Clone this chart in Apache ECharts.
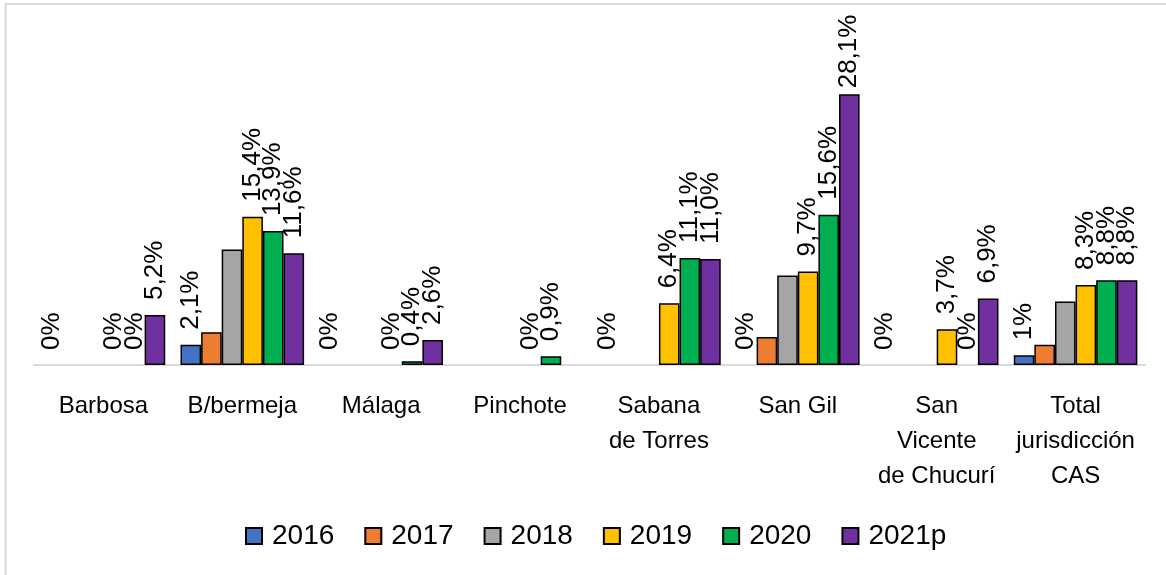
<!DOCTYPE html>
<html>
<head>
<meta charset="utf-8">
<script src="https://cdn.jsdelivr.net/npm/echarts@6/dist/echarts.min.js"></script>
<style>
  html, body { margin: 0; padding: 0; background: #fff; }
  #main { width: 1166px; height: 575px; }
</style>
</head>
<body>
<div id="main"></div>
<script>
var categories = ['Barbosa', 'B/bermeja', 'Málaga', 'Pinchote', 'Sabana\nde Torres', 'San Gil', 'San\nVicente\nde Chucurí', 'Total\njurisdicción\nCAS'];
var years = ['2016', '2017', '2018', '2019', '2020', '2021p'];

// null = no data for that year
var v2016 = [0, 2.1, 0, null, 0, 0, 0, 1];
var v2017 = [null, 3.4, null, null, null, 2.9, null, 2.1];
var v2018 = [null, 12.0, null, null, null, 9.3, null, 6.6];
var v2019 = [0, 15.4, 0, 0, 6.4, 9.7, 3.7, 8.3];
var v2020 = [0, 13.9, 0.4, 0.9, 11.1, 15.6, 0, 8.8];
var v2021 = [5.2, 11.6, 2.6, null, 11.0, 28.1, 6.9, 8.8];

var colors = ['#4472C4', '#ED7D31', '#A5A5A5', '#FFC000', '#00B050', '#7030A0'];
var labelled = [true, false, false, true, true, true];

var chart = echarts.init(document.getElementById('main'));

function fmt(p) {
  var v = p.value;
  if (v == null) return '';
  if (Number.isInteger(v) && v < 10) return v + '%';
  return v.toFixed(1).replace('.', ',') + '%';
}

var font = 'Liberation Sans, Arial, sans-serif';
var allValues = [v2016, v2017, v2018, v2019, v2020, v2021];

var series = years.map(function (y, i) {
  return {
    name: y,
    type: 'bar',
    barGap: '0%',
    barCategoryGap: '11%',
    data: allValues[i].map(function (v) {
      // zero-height bars: no outline, like excel
      if (v === 0) return { value: 0, itemStyle: { borderWidth: 0 } };
      // tallest label gets squeezed against the top
      if (v > 25) return { value: v, label: { distance: 6 } };
      return v;
    }),
    itemStyle: { color: colors[i], borderColor: '#000', borderWidth: 1.5 },
    label: {
      show: labelled[i],
      position: 'top',
      rotate: 90,
      align: 'left',
      verticalAlign: 'middle',
      distance: 15,
      color: '#000',
      fontFamily: font,
      fontSize: 26,
      formatter: fmt
    }
  };
});

var option = {
  backgroundColor: '#fff',
  animation: false,
  color: colors,
  graphic: [
    { type: 'line', shape: { x1: 5.5, y1: 3, x2: 5.5, y2: 575 }, style: { stroke: '#d9d9d9', lineWidth: 2 } },
    { type: 'line', shape: { x1: 5, y1: 4, x2: 1166, y2: 4 }, style: { stroke: '#d9d9d9', lineWidth: 2 } }
  ],
  legend: {
    data: years,
    bottom: 20,
    left: 240,
    itemWidth: 16,
    itemHeight: 16,
    itemGap: 30,
    icon: 'rect',
    textStyle: { fontFamily: font, fontSize: 28, color: '#000', padding: [0, 0, 0, 5] }
  },
  grid: {
    left: 34,
    right: 21,
    top: 76,
    height: 289,
    containLabel: false
  },
  xAxis: {
    type: 'category',
    data: categories,
    axisLine: { lineStyle: { color: '#d9d9d9', width: 2 } },
    axisTick: { show: false },
    axisLabel: {
      interval: 0,
      margin: 24,
      color: '#000',
      fontFamily: font,
      fontSize: 24,
      lineHeight: 35,
      verticalAlign: 'top'
    }
  },
  yAxis: {
    type: 'value',
    min: 0,
    max: 30,
    show: false,
    splitLine: { show: false }
  },
  series: series
};

chart.setOption(option);
</script>
</body>
</html>
